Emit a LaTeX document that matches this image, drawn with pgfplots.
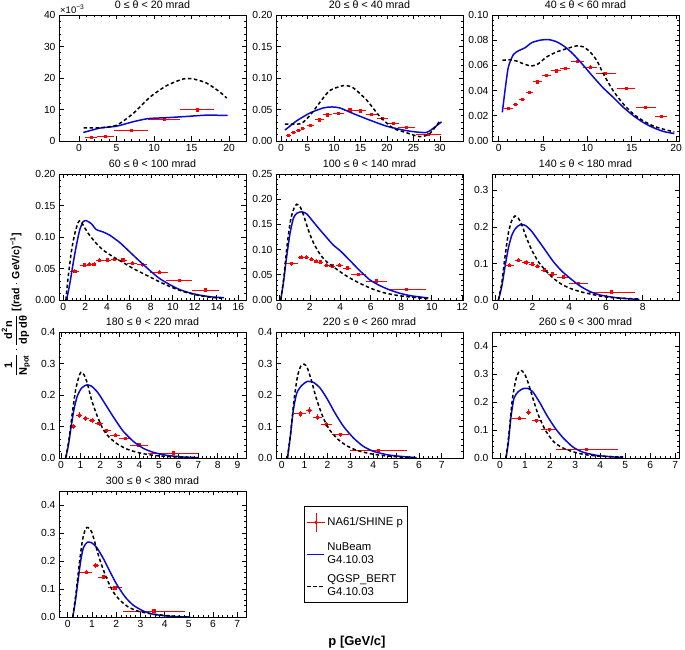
\documentclass[border=0pt]{standalone}
\usepackage{fontspec}
\setmainfont{Liberation Sans}
\usepackage{amsmath}
\usepackage{pgfplots}
\pgfplotsset{compat=1.18}
\definecolor{rootblue}{RGB}{10,10,215}
\definecolor{rootred}{RGB}{255,0,0}
\pgfplotsset{
  table/row sep=\\,
  panel/.style={
    scale only axis, width=187pt, height=126pt,
    tick align=inside, major tick length=4.5pt, minor tick length=2.3pt,
    tick style={black, line width=0.6pt},
    axis line style={line width=0.8pt},
    ymin=0, minor x tick num=4, minor y tick num=4,
    /pgf/number format/assume math mode=true,
    tick label style={font=\fontsize{10.3}{12}\selectfont},
    title style={font=\fontsize{10.7}{12}\selectfont, yshift=-3pt},
    scaled ticks=false, clip mode=individual,
  },
  y2/.style={yticklabel style={/pgf/number format/.cd, fixed, fixed zerofill, precision=2}},
  y1/.style={yticklabel style={/pgf/number format/.cd, fixed, fixed zerofill, precision=1}},
  dat/.style={rootred, line width=0.8pt, mark=square*, mark size=1.1pt, only marks,
    error bars/x dir=both, error bars/x explicit, error bars/y dir=both, error bars/y explicit,
    error bars/error mark=none,
    error bars/error bar style={line width=0.8pt, rootred}},
  nub/.style={rootblue, line width=1.5pt, no marks, smooth, tension=0.4},
  qg/.style={black, line width=1.5pt, dash pattern=on 3.5pt off 2.5pt, no marks, smooth, tension=0.4},
}
\begin{document}
\begin{tikzpicture}[x=1pt,y=1pt]
\path[use as bounding box] (0,0) rectangle (685,650);
% ---------- Row 1 ----------
\begin{axis}[panel, at={(59pt,509pt)}, anchor=south west, title={0 ≤ θ < 20 mrad},
  xmin=-2.67, xmax=22.26, ymax=40, xtick={0,5,10,15,20}, ytick={0,10,20,30,40}]
\addplot[dat] table[x error=ex, y error=ey] {x y ex ey\\ 1.6 1.26 0.8 0.25\\ 3.55 1.57 1.15 0.25\\ 6.95 3.46 2.25 0.3\\ 11.35 6.8 2.15 0.4\\ 15.75 9.9 2.25 0.5\\};
\addplot[nub] table {x y\\ 0.58 2.7\\ 2.8 4.1\\ 5.0 4.7\\ 7.2 6.1\\ 9.2 7.1\\ 11.7 7.4\\ 14.4 7.8\\ 17 8.2\\ 19.8 8.1\\};
\addplot[qg] table {x y\\ 0.6 4.2\\ 2.8 4.2\\ 5 5.0\\ 7.2 8.7\\ 9.5 14\\ 11.7 17.6\\ 13.9 19.7\\ 15.2 19.7\\ 17 18.4\\ 18.8 15.5\\ 19.7 13.6\\};
\node[anchor=south west, font=\fontsize{9.5}{10}\selectfont, inner sep=1pt] at (rel axis cs:0,1) {×10\textsuperscript{−3}};
\end{axis}
\begin{axis}[panel, y2, at={(276pt,509pt)}, anchor=south west, title={20 ≤ θ < 40 mrad},
  xmin=-0.94, xmax=34.34, ymax=0.2, xtick={0,5,...,30}, ytick={0,0.05,...,0.2}]
\addplot[dat] table[x error=ex, y error=ey] {x y ex ey\\ 1.38 0.0094 0.45 0.001\\ 2.33 0.0136 0.45 0.001\\ 3.27 0.0163 0.45 0.001\\ 4.1 0.0194 0.4 0.001\\ 5.6 0.025 0.63 0.0015\\ 7.2 0.0336 0.85 0.0015\\ 8.74 0.0415 0.88 0.002\\ 10.9 0.0436 1.0 0.002\\ 13.0 0.0493 1.07 0.002\\ 15.0 0.0478 1.0 0.002\\ 17.1 0.0425 1.07 0.002\\ 19.2 0.0357 1.0 0.002\\ 21.2 0.0283 1.0 0.002\\ 23.7 0.022 1.6 0.0015\\ 27.8 0.011 2.3 0.001\\};
\addplot[nub] table {x y\\ 0.75 0.0173\\ 2.96 0.032\\ 5.5 0.0446\\ 8.0 0.0525\\ 9.56 0.054\\ 11.1 0.0525\\ 13.6 0.0436\\ 16.8 0.033\\ 19.9 0.0236\\ 23.1 0.0173\\ 25.6 0.0142\\ 27.5 0.0136\\ 28.7 0.02\\ 30.3 0.0304\\};
\addplot[qg] table {x y\\ 0.75 0.0268\\ 2.3 0.0268\\ 3.9 0.028\\ 5.5 0.041\\ 7.4 0.062\\ 9.2 0.080\\ 11.8 0.088\\ 13.6 0.0845\\ 16.2 0.0646\\ 18.7 0.0383\\ 21.2 0.02\\ 23.1 0.0147\\ 25 0.0094\\ 26.5 0.0068\\ 28.1 0.012\\ 30 0.032\\};
\end{axis}
\begin{axis}[panel, y2, at={(492pt,509pt)}, anchor=south west, title={40 ≤ θ < 60 mrad},
  xmin=-0.755, xmax=20.33, ymax=0.1, xtick={0,5,...,20}, ytick={0,0.02,...,0.1}]
\addplot[dat] table[x error=ex, y error=ey] {x y ex ey\\ 1.13 0.0261 0.5 0.001\\ 1.92 0.0288 0.3 0.001\\ 2.63 0.0331 0.35 0.001\\ 3.46 0.0387 0.4 0.001\\ 4.4 0.0469 0.5 0.001\\ 5.4 0.0523 0.5 0.0012\\ 6.47 0.0557 0.55 0.0012\\ 7.5 0.0576 0.55 0.0012\\ 8.9 0.0632 0.7 0.0015\\ 10.3 0.0587 0.75 0.0015\\ 12.07 0.0536 1.1 0.0015\\ 14.36 0.0419 1.05 0.0012\\ 16.58 0.0269 1.15 0.001\\ 18.3 0.0197 0.7 0.001\\};
\addplot[nub] table {x y\\ 0.41 0.0227\\ 0.71 0.04\\ 1.09 0.0587\\ 1.65 0.0685\\ 2.2 0.0715\\ 2.97 0.074\\ 3.72 0.078\\ 4.66 0.080\\ 5.6 0.0805\\ 6.54 0.0787\\ 7.48 0.0747\\ 8.42 0.0688\\ 9.55 0.060\\ 10.68 0.0507\\ 11.8 0.042\\ 12.9 0.0347\\ 14.06 0.0267\\ 15.2 0.02\\ 16.3 0.0147\\ 17.4 0.0107\\ 18.6 0.0075\\ 19.8 0.0059\\};
\addplot[qg] table {x y\\ 0.41 0.064\\ 1.28 0.0645\\ 2.0 0.0635\\ 2.78 0.0613\\ 3.65 0.0595\\ 4.47 0.0613\\ 5.4 0.0667\\ 6.54 0.0707\\ 7.67 0.0733\\ 8.8 0.0755\\ 9.55 0.0747\\ 10.3 0.0707\\ 11.05 0.064\\ 11.8 0.0533\\ 12.9 0.04\\ 14.06 0.0293\\ 15.2 0.0213\\ 16.3 0.016\\ 17.4 0.012\\ 18.6 0.0093\\ 19.8 0.0072\\};
\end{axis}
% ---------- Row 2 ----------
\begin{axis}[panel, y2, at={(59pt,350pt)}, anchor=south west, title={60 ≤ θ < 100 mrad},
  xmin=-0.39, xmax=16.69, ymax=0.2, xtick={0,2,...,16}, ytick={0,0.05,...,0.2}]
\addplot[dat] table[x error=ex, y error=ey] {x y ex ey\\ 1.06 0.046 0.42 0.003\\ 1.9 0.0556 0.38 0.003\\ 2.4 0.0566 0.2 0.003\\ 2.8 0.057 0.2 0.003\\ 3.33 0.063 0.33 0.003\\ 4.0 0.0635 0.35 0.003\\ 4.7 0.065 0.35 0.003\\ 5.44 0.0635 0.4 0.003\\ 6.29 0.0587 0.45 0.003\\ 7.2 0.056 0.45 0.003\\ 8.77 0.0444 0.83 0.003\\ 10.6 0.0307 1.2 0.002\\ 13.0 0.0159 1.2 0.002\\};
\addplot[nub] table {x y\\ 0.3 0\\ 0.6 0.026\\ 0.9 0.058\\ 1.2 0.087\\ 1.5 0.111\\ 1.8 0.124\\ 2.1 0.126\\ 2.57 0.121\\ 3.0 0.112\\ 3.63 0.108\\ 4.23 0.103\\ 5.14 0.0915\\ 6.05 0.0767\\ 6.95 0.062\\ 7.86 0.0476\\ 8.77 0.0344\\ 9.68 0.0249\\ 10.58 0.0169\\ 11.5 0.0116\\ 12.4 0.0079\\ 13.6 0.0048\\ 14.7 0.0037\\};
\addplot[qg] table {x y\\ 0.24 0\\ 0.45 0.037\\ 0.76 0.079\\ 1.06 0.106\\ 1.36 0.123\\ 1.57 0.126\\ 1.81 0.119\\ 2.27 0.106\\ 2.87 0.0926\\ 3.63 0.0794\\ 4.54 0.0688\\ 5.44 0.0598\\ 6.35 0.0503\\ 7.26 0.0423\\ 8.16 0.0344\\ 9.07 0.0265\\ 9.98 0.0196\\ 10.9 0.0138\\ 11.8 0.0095\\ 13.0 0.0053\\ 14.5 0.0026\\};
\end{axis}
\begin{axis}[panel, y2, at={(276pt,350pt)}, anchor=south west, title={100 ≤ θ < 140 mrad},
  xmin=-0.22, xmax=12.05, ymax=0.25, xtick={0,2,...,12}, ytick={0,0.05,...,0.25}]
\addplot[dat] table[x error=ex, y error=ey] {x y ex ey\\ 0.77 0.0721 0.44 0.004\\ 1.42 0.0847 0.17 0.004\\ 1.77 0.0847 0.17 0.004\\ 2.1 0.0807 0.16 0.004\\ 2.4 0.0767 0.15 0.004\\ 2.71 0.0754 0.15 0.004\\ 3.1 0.0688 0.2 0.004\\ 3.46 0.0675 0.18 0.004\\ 3.94 0.0694 0.25 0.004\\ 4.46 0.0635 0.27 0.004\\ 5.19 0.0509 0.49 0.003\\ 6.39 0.0377 0.68 0.003\\ 8.36 0.0212 1.27 0.002\\};
\addplot[nub] table {x y\\ 0.09 0\\ 0.26 0.033\\ 0.48 0.086\\ 0.7 0.132\\ 0.92 0.162\\ 1.14 0.172\\ 1.47 0.175\\ 1.79 0.171\\ 2.23 0.155\\ 2.67 0.139\\ 3.1 0.124\\ 3.54 0.109\\ 3.98 0.098\\ 4.64 0.078\\ 5.3 0.0575\\ 5.95 0.0397\\ 6.6 0.0284\\ 7.26 0.0198\\ 7.92 0.0132\\ 8.58 0.0086\\ 9.23 0.006\\ 9.78 0.004\\};
\addplot[qg] table {x y\\ 0.09 0\\ 0.3 0.046\\ 0.52 0.112\\ 0.74 0.159\\ 0.96 0.182\\ 1.14 0.19\\ 1.36 0.185\\ 1.58 0.169\\ 1.9 0.139\\ 2.23 0.114\\ 2.67 0.0906\\ 3.1 0.076\\ 3.54 0.066\\ 4.2 0.0516\\ 4.86 0.0397\\ 5.51 0.0298\\ 6.17 0.0212\\ 6.83 0.0146\\ 7.7 0.0093\\ 8.58 0.006\\ 9.45 0.0033\\ 9.9 0.0026\\};
\end{axis}
\begin{axis}[panel, y1, at={(492pt,350pt)}, anchor=south west, title={140 ≤ θ < 180 mrad},
  xmin=-0.2, xmax=9.98, ymax=0.345, xtick={0,2,...,10}, ytick={0,0.1,0.2,0.3}]
\addplot[dat] table[x error=ex, y error=ey] {x y ex ey\\ 0.74 0.095 0.25 0.006\\ 1.23 0.109 0.2 0.006\\ 1.65 0.1025 0.2 0.006\\ 1.98 0.0988 0.15 0.006\\ 2.27 0.0924 0.15 0.006\\ 2.67 0.0823 0.2 0.006\\ 3.1 0.0714 0.25 0.005\\ 3.68 0.0631 0.33 0.005\\ 4.5 0.0457 0.53 0.004\\ 6.32 0.022 1.26 0.003\\};
\addplot[nub] table {x y\\ 0.15 0\\ 0.33 0.0366\\ 0.51 0.0915\\ 0.69 0.142\\ 0.87 0.176\\ 1.05 0.194\\ 1.23 0.203\\ 1.42 0.207\\ 1.65 0.203\\ 1.96 0.188\\ 2.32 0.163\\ 2.69 0.137\\ 3.14 0.105\\ 3.59 0.0796\\ 4.05 0.0595\\ 4.59 0.0384\\ 5.14 0.0229\\ 5.68 0.0137\\ 6.41 0.0073\\ 7.13 0.0037\\ 7.82 0.0018\\};
\addplot[qg] table {x y\\ 0.15 0\\ 0.33 0.0457\\ 0.51 0.119\\ 0.69 0.183\\ 0.87 0.217\\ 1.05 0.23\\ 1.23 0.224\\ 1.42 0.206\\ 1.65 0.174\\ 1.96 0.137\\ 2.32 0.105\\ 2.69 0.0823\\ 3.14 0.0595\\ 3.59 0.043\\ 4.05 0.032\\ 4.59 0.0229\\ 5.14 0.0165\\ 5.86 0.0091\\ 6.59 0.0055\\ 7.31 0.0037\\ 7.82 0.0027\\};
\end{axis}
% ---------- Row 3 ----------
\begin{axis}[panel, y1, at={(59pt,192pt)}, anchor=south west, title={180 ≤ θ < 220 mrad},
  xmin=-0.1, xmax=9.44, ymax=0.4, xtick={0,1,...,9}, ytick={0,0.1,...,0.4}]
\addplot[dat] table[x error=ex, y error=ey] {x y ex ey\\ 0.63 0.1005 0.14 0.008\\ 0.94 0.1365 0.15 0.008\\ 1.26 0.126 0.15 0.008\\ 1.58 0.1185 0.17 0.007\\ 1.94 0.109 0.2 0.007\\ 2.33 0.0868 0.2 0.006\\ 2.76 0.072 0.25 0.006\\ 3.27 0.0624 0.3 0.005\\ 3.98 0.0413 0.44 0.004\\ 5.73 0.0159 1.28 0.003\\};
\addplot[nub] table {x y\\ 0.24 0\\ 0.37 0.037\\ 0.51 0.095\\ 0.66 0.153\\ 0.83 0.196\\ 1.05 0.222\\ 1.31 0.232\\ 1.56 0.228\\ 1.9 0.206\\ 2.33 0.164\\ 2.76 0.122\\ 3.18 0.0847\\ 3.69 0.0529\\ 4.2 0.0307\\ 4.71 0.018\\ 5.39 0.0085\\ 6.24 0.0032\\ 7.0 0.001\\};
\addplot[qg] table {x y\\ 0.24 0\\ 0.41 0.058\\ 0.58 0.143\\ 0.75 0.217\\ 0.92 0.259\\ 1.02 0.272\\ 1.17 0.265\\ 1.34 0.238\\ 1.56 0.185\\ 1.82 0.138\\ 2.16 0.09\\ 2.5 0.0635\\ 2.93 0.0423\\ 3.44 0.0265\\ 4.03 0.0159\\ 4.71 0.0085\\ 5.56 0.0042\\ 6.41 0.002\\ 7.0 0.001\\};
\end{axis}
\begin{axis}[panel, y1, at={(276pt,192pt)}, anchor=south west, title={220 ≤ θ < 260 mrad},
  xmin=-0.25, xmax=7.93, ymax=0.4, xtick={0,1,...,7}, ytick={0,0.1,...,0.4}]
\addplot[dat] table[x error=ex, y error=ey] {x y ex ey\\ 0.8 0.14 0.26 0.01\\ 1.2 0.15 0.14 0.011\\ 1.56 0.13 0.2 0.009\\ 1.97 0.107 0.23 0.008\\ 2.58 0.074 0.38 0.006\\ 4.23 0.0243 1.26 0.004\\};
\addplot[nub] table {x y\\ 0.25 0\\ 0.36 0.058\\ 0.51 0.153\\ 0.66 0.206\\ 0.87 0.23\\ 1.12 0.243\\ 1.39 0.24\\ 1.68 0.222\\ 1.97 0.19\\ 2.33 0.143\\ 2.7 0.1005\\ 3.14 0.0635\\ 3.57 0.037\\ 4.01 0.0212\\ 4.59 0.0106\\ 5.18 0.0053\\ 5.9 0.001\\};
\addplot[qg] table {x y\\ 0.25 0\\ 0.39 0.079\\ 0.54 0.185\\ 0.69 0.259\\ 0.83 0.291\\ 0.98 0.298\\ 1.12 0.286\\ 1.31 0.243\\ 1.53 0.185\\ 1.82 0.127\\ 2.11 0.0878\\ 2.48 0.058\\ 2.84 0.039\\ 3.28 0.0243\\ 3.86 0.0138\\ 4.45 0.0074\\ 5.18 0.0032\\ 5.9 0.001\\};
\end{axis}
\begin{axis}[panel, y1, at={(492pt,192pt)}, anchor=south west, title={260 ≤ θ < 300 mrad},
  xmin=-0.32, xmax=7.15, ymax=0.45, xtick={0,1,...,7}, ytick={0,0.1,...,0.4}]
\addplot[dat] table[x error=ex, y error=ey] {x y ex ey\\ 0.76 0.142 0.29 0.008\\ 1.14 0.164 0.1 0.012\\ 1.46 0.133 0.2 0.008\\ 1.96 0.101 0.31 0.007\\ 3.46 0.032 1.24 0.004\\};
\addplot[nub] table {x y\\ 0.24 0\\ 0.33 0.053\\ 0.44 0.148\\ 0.56 0.214\\ 0.73 0.237\\ 0.93 0.248\\ 1.13 0.248\\ 1.33 0.234\\ 1.6 0.196\\ 1.86 0.154\\ 2.2 0.107\\ 2.53 0.0712\\ 2.93 0.038\\ 3.33 0.0202\\ 3.86 0.0095\\ 4.39 0.0047\\ 4.92 0.0012\\};
\addplot[qg] table {x y\\ 0.24 0\\ 0.36 0.089\\ 0.49 0.208\\ 0.63 0.279\\ 0.76 0.309\\ 0.87 0.312\\ 1.0 0.297\\ 1.13 0.267\\ 1.33 0.208\\ 1.53 0.154\\ 1.8 0.101\\ 2.13 0.0593\\ 2.46 0.038\\ 2.86 0.0237\\ 3.33 0.013\\ 3.86 0.0071\\ 4.39 0.0047\\ 4.92 0.0036\\};
\end{axis}
% ---------- Row 4 ----------
\begin{axis}[panel, y1, at={(59pt,33pt)}, anchor=south west, title={300 ≤ θ < 380 mrad},
  xmin=-0.36, xmax=7.36, ymax=0.45, xtick={0,1,...,7}, ytick={0,0.1,...,0.4},
  legend style={at={(1.312,0.881)}, anchor=north west, draw=black, line width=0.6pt,
    font=\fontsize{11.3}{13}\selectfont, row sep=2pt, inner xsep=2pt, inner ysep=1pt,
    nodes={minimum height=30pt, inner sep=2pt}, cells={align=left, anchor=west}},
  legend cell align=left]
\addplot[legend image code/.code={
  \draw[rootred, line width=0.8pt] (0.3cm,-0.33cm) -- (0.3cm,0.33cm) (0cm,0cm) -- (0.62cm,0cm);
  \fill[rootred] (0.3cm,0cm) circle (1.2pt);}, dat]
  table[x error=ex, y error=ey] {x y ex ey\\ 0.76 0.16 0.25 0.008\\ 1.16 0.184 0.12 0.01\\ 1.47 0.143 0.21 0.008\\ 1.95 0.104 0.3 0.007\\ 3.56 0.0215 1.29 0.004\\};
\addlegendentry{NA61/SHINE p}
\addplot[nub] table {x y\\ 0.21 0\\ 0.3 0.048\\ 0.41 0.119\\ 0.54 0.203\\ 0.65 0.248\\ 0.81 0.267\\ 0.99 0.265\\ 1.2 0.248\\ 1.47 0.209\\ 1.75 0.161\\ 2.02 0.117\\ 2.37 0.0716\\ 2.71 0.0418\\ 3.12 0.0215\\ 3.54 0.0096\\ 4.09 0.0036\\ 4.5 0.0012\\ 5.05 0\\};
\addlegendentry{NuBeam\\G4.10.03}
\addplot[qg] table {x y\\ 0.21 0\\ 0.34 0.0836\\ 0.48 0.191\\ 0.61 0.275\\ 0.74 0.316\\ 0.85 0.319\\ 0.99 0.304\\ 1.13 0.263\\ 1.33 0.203\\ 1.61 0.137\\ 1.88 0.0896\\ 2.16 0.0597\\ 2.5 0.0358\\ 2.92 0.0203\\ 3.4 0.0119\\ 3.95 0.006\\ 4.5 0.0024\\ 5.05 0\\};
\addlegendentry{QGSP\_BERT\\G4.10.03}
\end{axis}
% ---------- axis titles ----------
\node[font=\bfseries\fontsize{13}{15}\selectfont] at (357,7.5) {p [GeV/c]};
\node[rotate=90, font=\bfseries\fontsize{11}{13}\selectfont, inner sep=0pt] at (16,345)
  {$\dfrac{\text{1}}{\text{N}_{\text{pot}}}\cdot\dfrac{\text{d}^{\text{2}}\text{n}}{\text{dp d}\text{θ}}$ {\fontsize{10.5}{12}\selectfont[(rad $\cdot$ GeV/c)\textsuperscript{−1}]}};
\end{tikzpicture}
\end{document}
